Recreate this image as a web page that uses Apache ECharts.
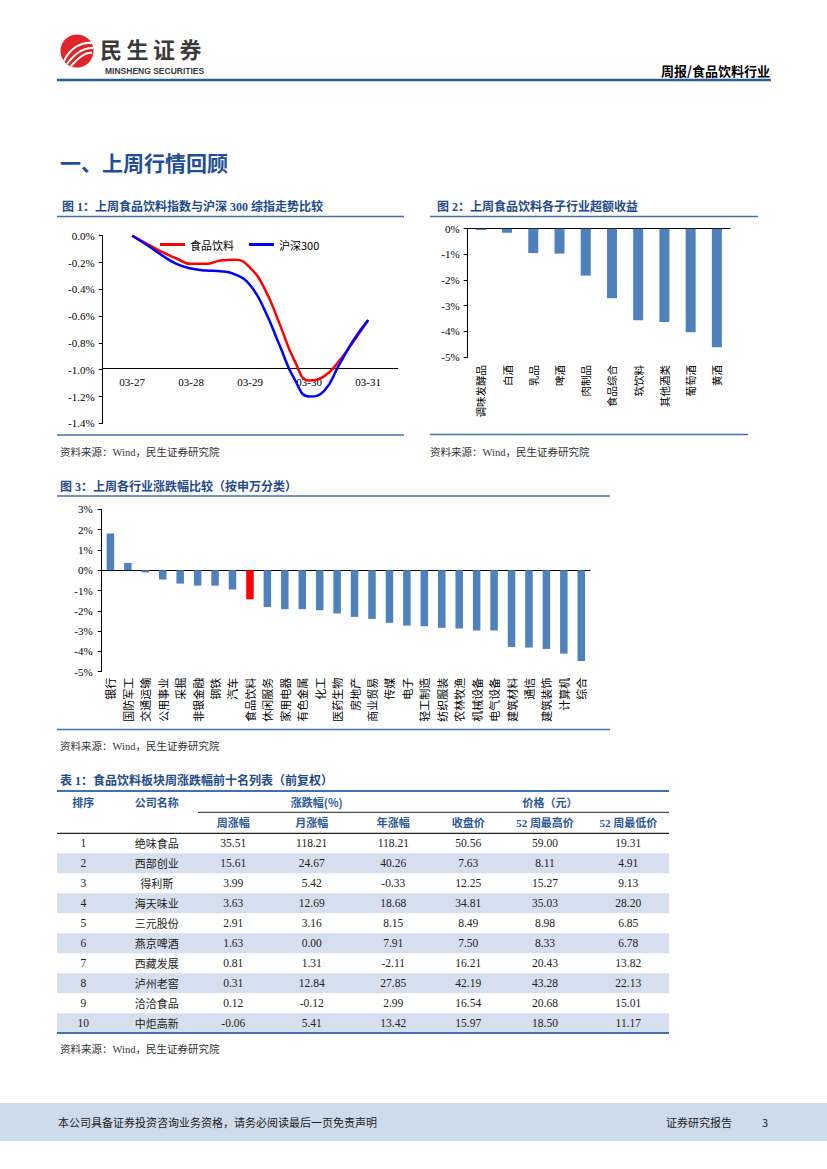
<!DOCTYPE html>
<html>
<head>
<meta charset="utf-8">
<script src="https://cdn.jsdelivr.net/npm/echarts@6/dist/echarts.min.js"></script>
<style>
html,body{margin:0;padding:0;background:#fff;}
#page{width:827px;height:1169px;}
</style>
</head>
<body>
<div id="page"></div>
<script>
// ---------- DATA ----------
const fig1Dates = ['03-27', '03-28', '03-29', '03-30', '03-31'];
const fig1Pos = [0, 0.25, 0.5, 0.75, 1, 1.25, 1.5, 1.75, 2, 2.25, 2.5, 2.75, 3, 3.25, 3.5, 3.75, 4];
const fig1Food = [0, -0.06, -0.12, -0.17, -0.21, -0.21, -0.185, -0.18, -0.24, -0.40, -0.66, -0.93, -1.08, -1.05, -0.94, -0.79, -0.63];
const fig1HS300 = [0, -0.07, -0.145, -0.21, -0.245, -0.26, -0.265, -0.29, -0.37, -0.56, -0.82, -1.07, -1.20, -1.16, -0.97, -0.78, -0.63];
const fig1Names = ['食品饮料', '沪深300'];

const fig2Cats = ['调味发酵品', '白酒', '乳品', '啤酒', '肉制品', '食品综合', '软饮料', '其他酒类', '葡萄酒', '黄酒'];
const fig2Values = [-0.05, -0.16, -0.95, -0.97, -1.83, -2.71, -3.57, -3.64, -4.04, -4.62];

const fig3Cats = ['银行', '国防军工', '交通运输', '公用事业', '采掘', '非银金融', '钢铁', '汽车', '食品饮料', '休闲服务',
  '家用电器', '有色金属', '化工', '医药生物', '房地产', '商业贸易', '传媒', '电子', '轻工制造', '纺织服装',
  '农林牧渔', '机械设备', '电气设备', '建筑材料', '通信', '建筑装饰', '计算机', '综合'];
const fig3Values = [1.81, 0.36, -0.11, -0.46, -0.66, -0.76, -0.76, -0.95, -1.43, -1.81,
  -1.92, -1.92, -1.97, -2.13, -2.30, -2.40, -2.59, -2.73, -2.76, -2.84,
  -2.87, -2.97, -2.97, -3.78, -3.81, -3.88, -4.11, -4.47];
const fig3Highlight = '食品饮料';

const tableRank = ['1', '2', '3', '4', '5', '6', '7', '8', '9', '10'];
const tableNames = ['绝味食品', '西部创业', '得利斯', '海天味业', '三元股份', '燕京啤酒', '西藏发展', '泸州老窖', '洽洽食品', '中炬高新'];
const tableWeek = ['35.51', '15.61', '3.99', '3.63', '2.91', '1.63', '0.81', '0.31', '0.12', '-0.06'];
const tableMonth = ['118.21', '24.67', '5.42', '12.69', '3.16', '0.00', '1.31', '12.84', '-0.12', '5.41'];
const tableYear = ['118.21', '40.26', '-0.33', '18.68', '8.15', '7.91', '-2.11', '27.85', '2.99', '13.42'];
const tableClose = ['50.56', '7.63', '12.25', '34.81', '8.49', '7.50', '16.21', '42.19', '16.54', '15.97'];
const tableHigh = ['59.00', '8.11', '15.27', '35.03', '8.98', '8.33', '20.43', '43.28', '20.68', '18.50'];
const tableLow = ['19.31', '4.91', '9.13', '28.20', '6.85', '6.78', '13.82', '22.13', '15.01', '11.17'];
const tableHead1 = ['排序', '公司名称', '涨跌幅(%)', '价格（元）'];
const tableHead2 = ['周涨幅', '月涨幅', '年涨幅', '收盘价', '52 周最高价', '52 周最低价'];

// ---------- STYLE ----------
const CJK = '"Noto Sans CJK SC"';
const SERIF = '"Liberation Serif","Noto Sans CJK SC",serif';
const NAVY = '#1F4A8C';
const RULE = '#4272AE';
const BAR = '#4F81BD';

const chart = echarts.init(document.getElementById('page'), null, {renderer: 'svg', width: 827, height: 1169});

const G = [];
function txt(x, y, text, font, fill, align, vAlign) {
  G.push({type: 'text', x: x, y: y, silent: true,
    style: {text: text, font: font, fill: fill || '#000', align: align || 'left', verticalAlign: vAlign || 'middle'}});
}
function line(x1, y1, x2, y2, color, w) {
  G.push({type: 'line', silent: true, shape: {x1: x1, y1: y1, x2: x2, y2: y2}, style: {stroke: color, lineWidth: w}});
}
function rect(x, y, w, h, fill) {
  G.push({type: 'rect', silent: true, z: -1, shape: {x: x, y: y, width: w, height: h}, style: {fill: fill}});
}

// header
G.push({type: 'circle', silent: true, shape: {cx: 77, cy: 51, r: 16.5}, style: {fill: '#E0252B'}});
[[64, 61, 70, 48, 82, 41, 93, 43], [67, 64, 75, 53, 85, 47, 93, 48], [71, 66, 79, 57, 87, 52, 92, 53]].forEach(function (p) {
  G.push({type: 'bezierCurve', silent: true, shape: {x1: p[0], y1: p[1], cpx1: p[2], cpy1: p[3], cpx2: p[4], cpy2: p[5], x2: p[6], y2: p[7]},
    style: {stroke: '#fff', lineWidth: 2, fill: null}});
});
['民', '生', '证', '券'].forEach(function (c, i) {
  txt(111 + i * 26.5, 48, c, 'bold 22px ' + CJK, '#3A3A3A', 'center');
});
txt(105, 71, 'MINSHENG SECURITIES', 'bold 8.5px "Liberation Sans Narrow","Liberation Sans",sans-serif', '#3A3A3A', 'left');
txt(770, 70, '周报/食品饮料行业', 'bold 13px ' + CJK, '#000', 'right');
line(57, 80, 771, 80, '#2A5C98', 2.5);

// section title
txt(60, 162, '一、上周行情回顾', 'bold 21px ' + CJK, '#1F4E96', 'left');

// figure frames
txt(62, 207, '图 1：上周食品饮料指数与沪深 300 综指走势比较', 'bold 12px ' + SERIF, NAVY, 'left');
line(57, 216.5, 404, 216.5, RULE, 1.5);
line(57, 435, 404, 435, RULE, 1.5);
txt(60, 452, '资料来源：Wind，民生证券研究院', '10.5px ' + SERIF, '#333', 'left');

txt(437, 207, '图 2：上周食品饮料各子行业超额收益', 'bold 12px ' + SERIF, NAVY, 'left');
line(430, 216.5, 758, 216.5, RULE, 1.5);
line(430, 434.5, 748, 434.5, RULE, 1.5);
txt(430, 452, '资料来源：Wind，民生证券研究院', '10.5px ' + SERIF, '#333', 'left');

txt(60, 487, '图 3：上周各行业涨跌幅比较（按申万分类）', 'bold 12px ' + SERIF, NAVY, 'left');
line(57, 496, 610, 496, RULE, 1.5);
line(57, 729.5, 610, 729.5, RULE, 1.5);
txt(60, 746, '资料来源：Wind，民生证券研究院', '10.5px ' + SERIF, '#333', 'left');

// table
txt(60, 781, '表 1：食品饮料板块周涨跌幅前十名列表（前复权）', 'bold 12px ' + SERIF, NAVY, 'left');
const colX = [83.3, 156.7, 233.3, 311.7, 393.3, 468.3, 545, 628.3];
const HEAD = '#2B5797';
line(57, 791, 669, 791, RULE, 2);
txt(colX[0], 801.7, tableHead1[0], 'bold 11px ' + CJK, HEAD, 'center');
txt(colX[1], 801.7, tableHead1[1], 'bold 11px ' + CJK, HEAD, 'center');
txt(316.7, 801.7, tableHead1[2], 'bold 11px ' + CJK, HEAD, 'center');
txt(550, 801.7, tableHead1[3], 'bold 11px ' + CJK, HEAD, 'center');
line(198, 812.3, 669, 812.3, '#222', 1);
tableHead2.forEach(function (h, i) { txt(colX[i + 2], 823.3, h, 'bold 11px ' + SERIF, HEAD, 'center'); });
line(57, 833.3, 669, 833.3, '#222', 1.2);
const cols = [tableRank, tableNames, tableWeek, tableMonth, tableYear, tableClose, tableHigh, tableLow];
tableRank.forEach(function (r, i) {
  const cy = 843.3 + i * 20;
  if (i % 2 === 1) rect(57, cy - 10, 612, 20, '#D5DFEE');
  cols.forEach(function (col, j) {
    txt(colX[j], cy, col[i], (j === 1 ? '11px ' + CJK : '11.5px ' + SERIF), '#222', 'center');
  });
});
line(57, 1033, 669, 1033, RULE, 2);
txt(60, 1049, '资料来源：Wind，民生证券研究院', '10.5px ' + SERIF, '#333', 'left');

// footer
rect(0, 1103, 827, 38, '#CEDBEA');
txt(58, 1122, '本公司具备证券投资咨询业务资格，请务必阅读最后一页免责声明', '11px ' + CJK, '#222', 'left');
txt(732, 1122, '证券研究报告', '11px ' + CJK, '#222', 'right');
txt(765, 1122, '3', '11px ' + CJK, '#222', 'center');

// ---------- CHART OPTION ----------
const axisBlack = {color: '#000', width: 1};
const labelSerif = {color: '#000', fontFamily: SERIF, fontSize: 11};
const labelCJK = {color: '#000', fontFamily: CJK, fontSize: 10.5};

const option = {
  animation: false,
  backgroundColor: '#fff',
  textStyle: {fontFamily: CJK},
  legend: {
    left: 155, top: 234, itemWidth: 25, itemHeight: 3, itemGap: 15, icon: 'rect',
    textStyle: {fontFamily: CJK, fontSize: 11, color: '#000', padding: [0, 0, 0, 0]},
    data: fig1Names
  },
  grid: [
    {left: 102.7, top: 235.7, width: 295, height: 187.6, containLabel: false, outerBoundsMode: 'none'},
    {left: 467.7, top: 228.7, width: 262.3, height: 128.3, containLabel: false, outerBoundsMode: 'none'},
    {left: 101.7, top: 509.3, width: 488.3, height: 162.4, containLabel: false, outerBoundsMode: 'none'}
  ],
  xAxis: [
    {gridIndex: 0, type: 'category', data: fig1Dates, position: 'bottom', offset: -54.6,
      axisLine: {onZero: false, lineStyle: axisBlack}, axisTick: {length: 4, lineStyle: axisBlack},
      axisLabel: Object.assign({margin: 8}, labelSerif), splitLine: {show: false}},
    {gridIndex: 0, type: 'value', min: -0.5, max: 4.5, show: false},
    {gridIndex: 1, type: 'category', data: fig2Cats, position: 'top',
      axisLine: {onZero: false, lineStyle: axisBlack}, axisTick: {inside: true, length: 4, lineStyle: axisBlack},
      axisLabel: {show: false}},
    {gridIndex: 1, type: 'category', data: fig2Cats, position: 'bottom',
      axisLine: {show: false, onZero: false}, axisTick: {show: false},
      axisLabel: Object.assign({rotate: 90, margin: 8, interval: 0}, labelCJK)},
    {gridIndex: 2, type: 'category', data: fig3Cats, position: 'bottom',
      axisLine: {onZero: true, lineStyle: axisBlack}, axisTick: {length: 4, lineStyle: axisBlack},
      axisLabel: {show: false}},
    {gridIndex: 2, type: 'category', data: fig3Cats, position: 'bottom',
      axisLine: {show: false, onZero: false}, axisTick: {show: false},
      axisLabel: Object.assign({rotate: 90, margin: 6, interval: 0}, labelCJK, {fontSize: 11})}
  ],
  yAxis: [
    {gridIndex: 0, type: 'value', min: -1.4, max: 0, interval: 0.2,
      axisLine: {show: true, onZero: false, lineStyle: axisBlack}, axisTick: {show: true, length: 4, lineStyle: axisBlack},
      splitLine: {show: false},
      axisLabel: Object.assign({margin: 8, formatter: function (v) { return v.toFixed(1) + '%'; }}, labelSerif)},
    {gridIndex: 1, type: 'value', min: -5, max: 0, interval: 1,
      axisLine: {show: true, onZero: false, lineStyle: axisBlack}, axisTick: {show: true, length: 4, lineStyle: axisBlack},
      splitLine: {show: false},
      axisLabel: Object.assign({margin: 8, formatter: function (v) { return v + '%'; }}, labelSerif)},
    {gridIndex: 2, type: 'value', min: -5, max: 3, interval: 1,
      axisLine: {show: true, onZero: false, lineStyle: axisBlack}, axisTick: {show: true, length: 4, lineStyle: axisBlack},
      splitLine: {show: false},
      axisLabel: Object.assign({margin: 9, formatter: function (v) { return v + '%'; }}, labelSerif)}
  ],
  series: [
    {name: fig1Names[0], type: 'line', xAxisIndex: 1, yAxisIndex: 0, smooth: true, symbol: 'none',
      itemStyle: {color: '#FF0000'}, lineStyle: {color: '#FF0000', width: 2.5},
      data: fig1Pos.map(function (p, i) { return [p, fig1Food[i]]; })},
    {name: fig1Names[1], type: 'line', xAxisIndex: 1, yAxisIndex: 0, smooth: true, symbol: 'none',
      itemStyle: {color: '#0000FF'}, lineStyle: {color: '#0000FF', width: 2.5},
      data: fig1Pos.map(function (p, i) { return [p, fig1HS300[i]]; })},
    {type: 'bar', xAxisIndex: 2, yAxisIndex: 1, barWidth: 10, itemStyle: {color: BAR}, data: fig2Values},
    {type: 'bar', xAxisIndex: 4, yAxisIndex: 2, barWidth: 7.5,
      data: fig3Values.map(function (v, i) {
        return {value: v, itemStyle: {color: fig3Cats[i] === fig3Highlight ? '#FF0000' : BAR}};
      })}
  ],
  graphic: G
};
chart.setOption(option);
</script>
</body>
</html>
